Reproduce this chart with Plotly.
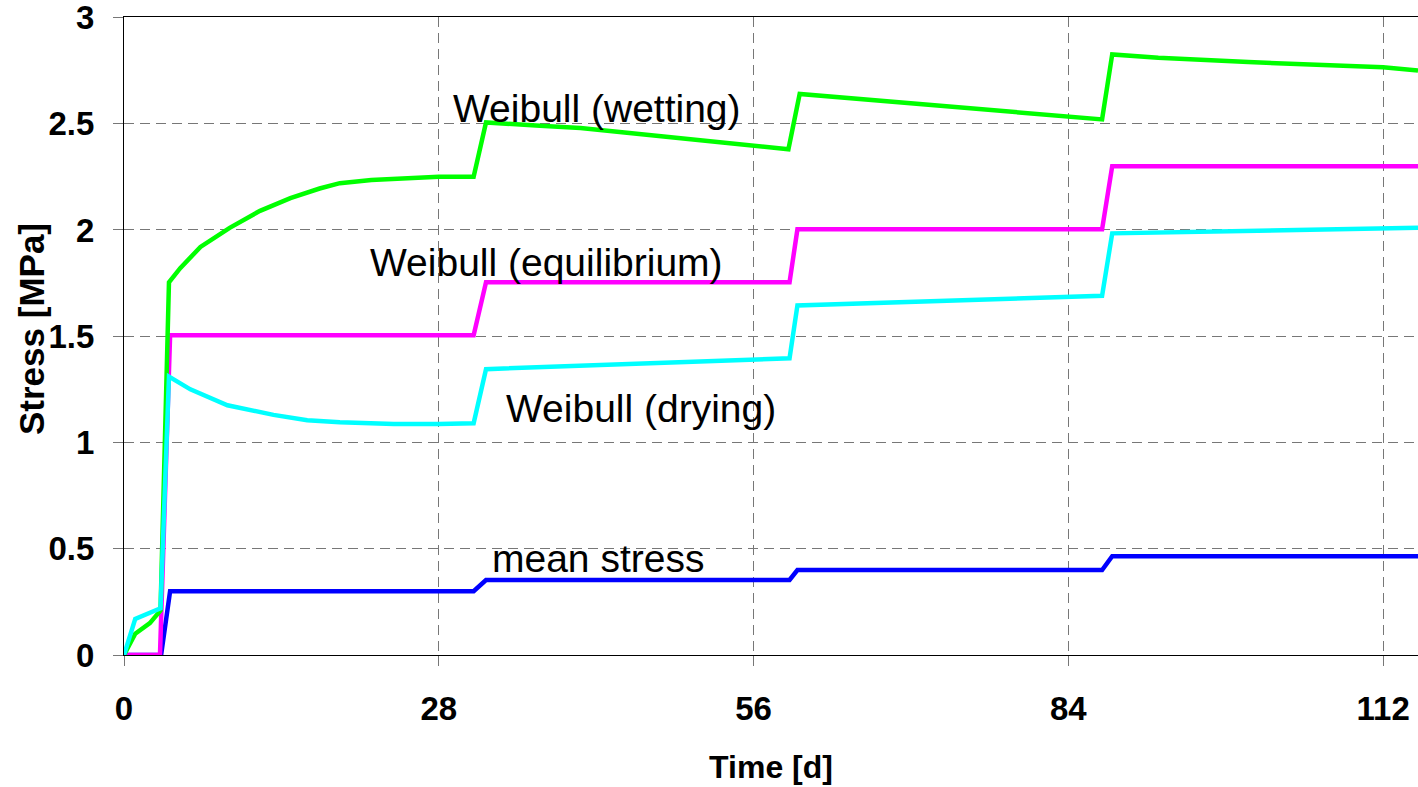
import plotly.graph_objects as go

# Time [d]
t_mean = [0, 3.3, 4.1, 31.1, 32.2, 59.2, 59.9, 87.0, 87.9, 115.1]
v_mean = [0, 0, 0.30, 0.30, 0.353, 0.353, 0.40, 0.40, 0.465, 0.465]

t_equil = [0, 3.2, 4.1, 31.1, 32.2, 59.2, 59.9, 87.0, 87.9, 115.1]
v_equil = [0, 0, 1.504, 1.504, 1.754, 1.754, 2.003, 2.003, 2.30, 2.30]

t_wet = [0, 1.0, 2.3, 3.25, 4.0, 5.0, 6.8, 9.4, 12.1, 14.8, 17.4, 19.2, 22.0, 25.0, 28.0, 31.1,
         32.2, 37.0, 40.6, 48.0, 56.0, 59.1,
         60.1, 69.0, 78.0, 87.0,
         87.9, 92.0, 100.0, 112.0, 115.1]
v_wet = [0, 0.10, 0.15, 0.21, 1.754, 1.82, 1.92, 2.01, 2.09, 2.15, 2.195, 2.22, 2.235, 2.245, 2.25, 2.25,
         2.506, 2.49, 2.48, 2.44, 2.40, 2.38,
         2.64, 2.60, 2.56, 2.52,
         2.826, 2.81, 2.79, 2.765, 2.75]

t_dry = [0, 1.0, 3.25, 4.0, 5.9, 9.2, 13.3, 16.3, 19.2, 24.0, 28.0, 31.1,
         32.2, 45.0, 59.2,
         59.9, 73.0, 87.0,
         87.9, 100.0, 115.1]
v_dry = [0, 0.17, 0.22, 1.31, 1.25, 1.175, 1.13, 1.105, 1.095, 1.087, 1.087, 1.09,
         1.345, 1.37, 1.396,
         1.645, 1.665, 1.69,
         1.984, 1.995, 2.01]

x_ticks = [0, 28, 56, 84, 112]
y_ticks = [0, 0.5, 1, 1.5, 2, 2.5, 3]
y_tick_labels = ["0", "0.5", "1", "1.5", "2", "2.5", "3"]

labels = ["Weibull (wetting)", "Weibull (equilibrium)", "Weibull (drying)", "mean stress"]
label_x = [42.1, 37.6, 46.0, 42.2]
label_y = [2.572, 1.848, 1.161, 0.456]

FONT = "Liberation Sans, Arial, sans-serif"
LW = 4.5

fig = go.Figure()
fig.add_trace(go.Scatter(x=t_mean, y=v_mean, mode="lines", line=dict(color="#0000FF", width=LW), name="mean stress"))
fig.add_trace(go.Scatter(x=t_equil, y=v_equil, mode="lines", line=dict(color="#FF00FF", width=LW), name="equilibrium"))
fig.add_trace(go.Scatter(x=t_wet, y=v_wet, mode="lines", line=dict(color="#00FF00", width=LW), name="wetting"))
fig.add_trace(go.Scatter(x=t_dry, y=v_dry, mode="lines", line=dict(color="#00FFFF", width=LW), name="drying"))

for txt, lx, ly in zip(labels, label_x, label_y):
    fig.add_annotation(x=lx, y=ly, xref="x", yref="y", text=txt, showarrow=False,
                       font=dict(family=FONT, size=39, color="black"),
                       xanchor="center", yanchor="middle")

# y-axis title placed as a rotated annotation
fig.add_annotation(x=-(124 - 31) / 1294, y=(655 - 329) / 638, xref="paper", yref="paper",
                   text="Stress [MPa]", textangle=-90, showarrow=False,
                   font=dict(family=FONT, size=35, weight="bold", color="black"),
                   xanchor="center", yanchor="middle")

fig.update_layout(
    width=1418, height=787,
    margin=dict(l=124, r=0, t=17, b=132),
    paper_bgcolor="white", plot_bgcolor="white",
    showlegend=False,
    font=dict(family=FONT, color="black"),
)
fig.update_xaxes(
    range=[0, 115.1], tickvals=x_ticks, ticktext=[str(v) for v in x_ticks],
    showgrid=True, gridcolor="#777777", gridwidth=1.3, griddash="10px,6px",
    showline=True, linecolor="black", linewidth=1, mirror=True,
    ticks="outside", ticklen=10, tickcolor="#777777", tickwidth=1.3,
    tickfont=dict(family=FONT, size=33, weight="bold", color="black"),
    ticklabelstandoff=14, ticklabeloverflow="allow",
    zeroline=False,
    title=dict(text="Time [d]", font=dict(family=FONT, size=32, weight="bold", color="black"), standoff=30),
)
fig.update_yaxes(
    range=[0, 3.002], tickvals=y_ticks, ticktext=y_tick_labels,
    showgrid=True, gridcolor="#777777", gridwidth=1.3, griddash="10px,6px",
    showline=True, linecolor="black", linewidth=1,
    ticks="outside", ticklen=10, tickcolor="#777777", tickwidth=1.3,
    tickfont=dict(family=FONT, size=33, weight="bold", color="black"),
    ticklabelstandoff=12, ticklabeloverflow="allow",
    zeroline=True, zerolinecolor="black", zerolinewidth=2.5,
)

fig.write_html("out.html", config={"displayModeBar": False},
               post_script="document.body.style.margin='0';")
